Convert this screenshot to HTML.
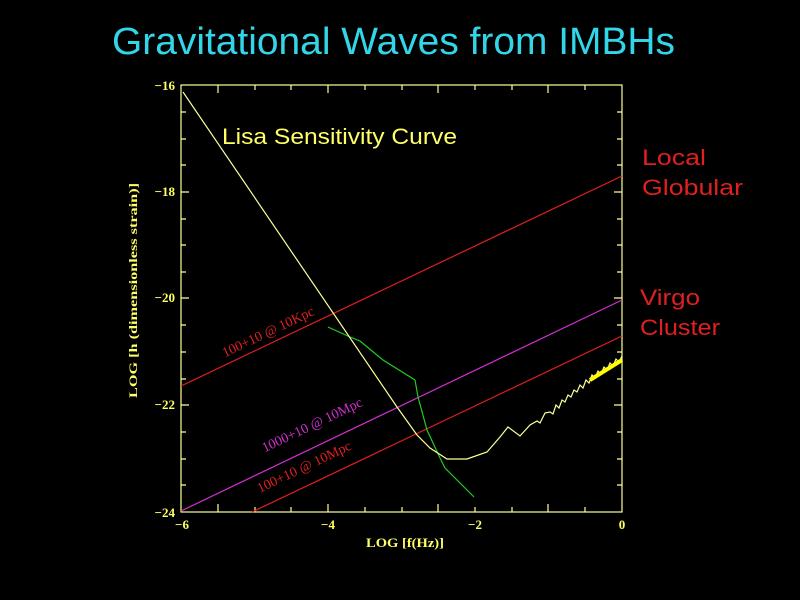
<!DOCTYPE html>
<html><head><style>
body{margin:0;background:#000;}
svg{display:block}
.t{font-family:"Liberation Serif",serif;font-weight:bold;fill:#ffff66;font-size:13px}
.s{font-family:"Liberation Sans",sans-serif}
</style></head><body>
<svg width="800" height="600" viewBox="0 0 800 600">
<rect width="800" height="600" fill="#000"/>
<text x="112" y="54" textLength="563" lengthAdjust="spacingAndGlyphs" class="s" font-size="38" fill="#33d6e8">Gravitational Waves from IMBHs</text>
<g stroke="#ffff99" stroke-width="1.2" fill="none">
<rect x="181" y="85" width="441" height="427"/>
<path d="M218,512v-8M255,512v-5M291,512v-5M328,512v-8M365,512v-5M402,512v-5M438,512v-8M475,512v-5M512,512v-5M548,512v-8M585,512v-5
M218,85v8M255,85v5M291,85v5M328,85v8M365,85v5M402,85v5M438,85v8M475,85v5M512,85v5M548,85v8M585,85v5
M181,112h5M181,139h5M181,165h5M181,192h8M181,219h5M181,245h5M181,272h5M181,298h8M181,325h5M181,352h5M181,379h5M181,405h8M181,432h5M181,459h5M181,485h5
M622,112h-5M622,139h-5M622,165h-5M622,192h-8M622,219h-5M622,245h-5M622,272h-5M622,298h-8M622,325h-5M622,352h-5M622,379h-5M622,405h-8M622,432h-5M622,459h-5M622,485h-5"/>
</g>
<g class="t">
<text x="175" y="90" text-anchor="end">−16</text>
<text x="175" y="196" text-anchor="end">−18</text>
<text x="175" y="302" text-anchor="end">−20</text>
<text x="175" y="409" text-anchor="end">−22</text>
<text x="175" y="517" text-anchor="end">−24</text>
<text x="182" y="529" text-anchor="middle">−6</text>
<text x="328" y="529" text-anchor="middle">−4</text>
<text x="475" y="529" text-anchor="middle">−2</text>
<text x="622" y="529" text-anchor="middle">0</text>
<text x="366" y="547" textLength="78" lengthAdjust="spacingAndGlyphs">LOG [f(Hz)]</text>
<text transform="translate(137,398) rotate(-90)" textLength="215" lengthAdjust="spacingAndGlyphs" font-size="12">LOG [h (dimensionless strain)]</text>
</g>
<g fill="none" stroke-width="1.2">
<line x1="181" y1="386" x2="622" y2="176" stroke="#e02020"/>
<line x1="181" y1="511" x2="622" y2="300" stroke="#d030d0"/>
<line x1="252" y1="512" x2="622" y2="336" stroke="#e02020"/>
<polyline stroke="#22cc22" points="328,327 350,337 360,341 383,360 415,380 418,397 427,430 440,458 445,468 474,497"/>
<polyline stroke="#ffff99" points="183,92 397,407 417,435 430,448 447,459 467,459 487,452 500,437 508,427 520,436 530,425 537,421 540,423 545,413 550,412 553,414 556,405 559,408 562,400 565,402 568,395 571,397 574,390 577,392 580,385 583,388 586,380 589,383 592,375 595,378 598,371 601,374 604,367 607,370 610,363 613,366 616,359 619,362 622,356"/>
<polyline stroke="#ffff00" stroke-width="4" points="590,380 622,360"/>
</g>
<g font-family="Liberation Serif,serif" font-size="14">
<text transform="translate(270,336) rotate(-25.5)" text-anchor="middle" fill="#e02020">100+10 @ 10Kpc</text>
<text transform="translate(314,429) rotate(-25.5)" text-anchor="middle" fill="#d030d0">1000+10 @ 10Mpc</text>
<text transform="translate(306,471) rotate(-25.5)" text-anchor="middle" fill="#e02020">100+10 @ 10Mpc</text>
</g>
<g class="s" font-size="22">
<text x="222" y="144" textLength="235" lengthAdjust="spacingAndGlyphs" fill="#ffff66">Lisa Sensitivity Curve</text>
<text x="642" y="165" textLength="64" lengthAdjust="spacingAndGlyphs" fill="#e02020">Local</text>
<text x="642" y="195" textLength="101" lengthAdjust="spacingAndGlyphs" fill="#e02020">Globular</text>
<text x="640" y="305" textLength="60" lengthAdjust="spacingAndGlyphs" fill="#e02020">Virgo</text>
<text x="640" y="335" textLength="80" lengthAdjust="spacingAndGlyphs" fill="#e02020">Cluster</text>
</g>
</svg>
</body></html>
